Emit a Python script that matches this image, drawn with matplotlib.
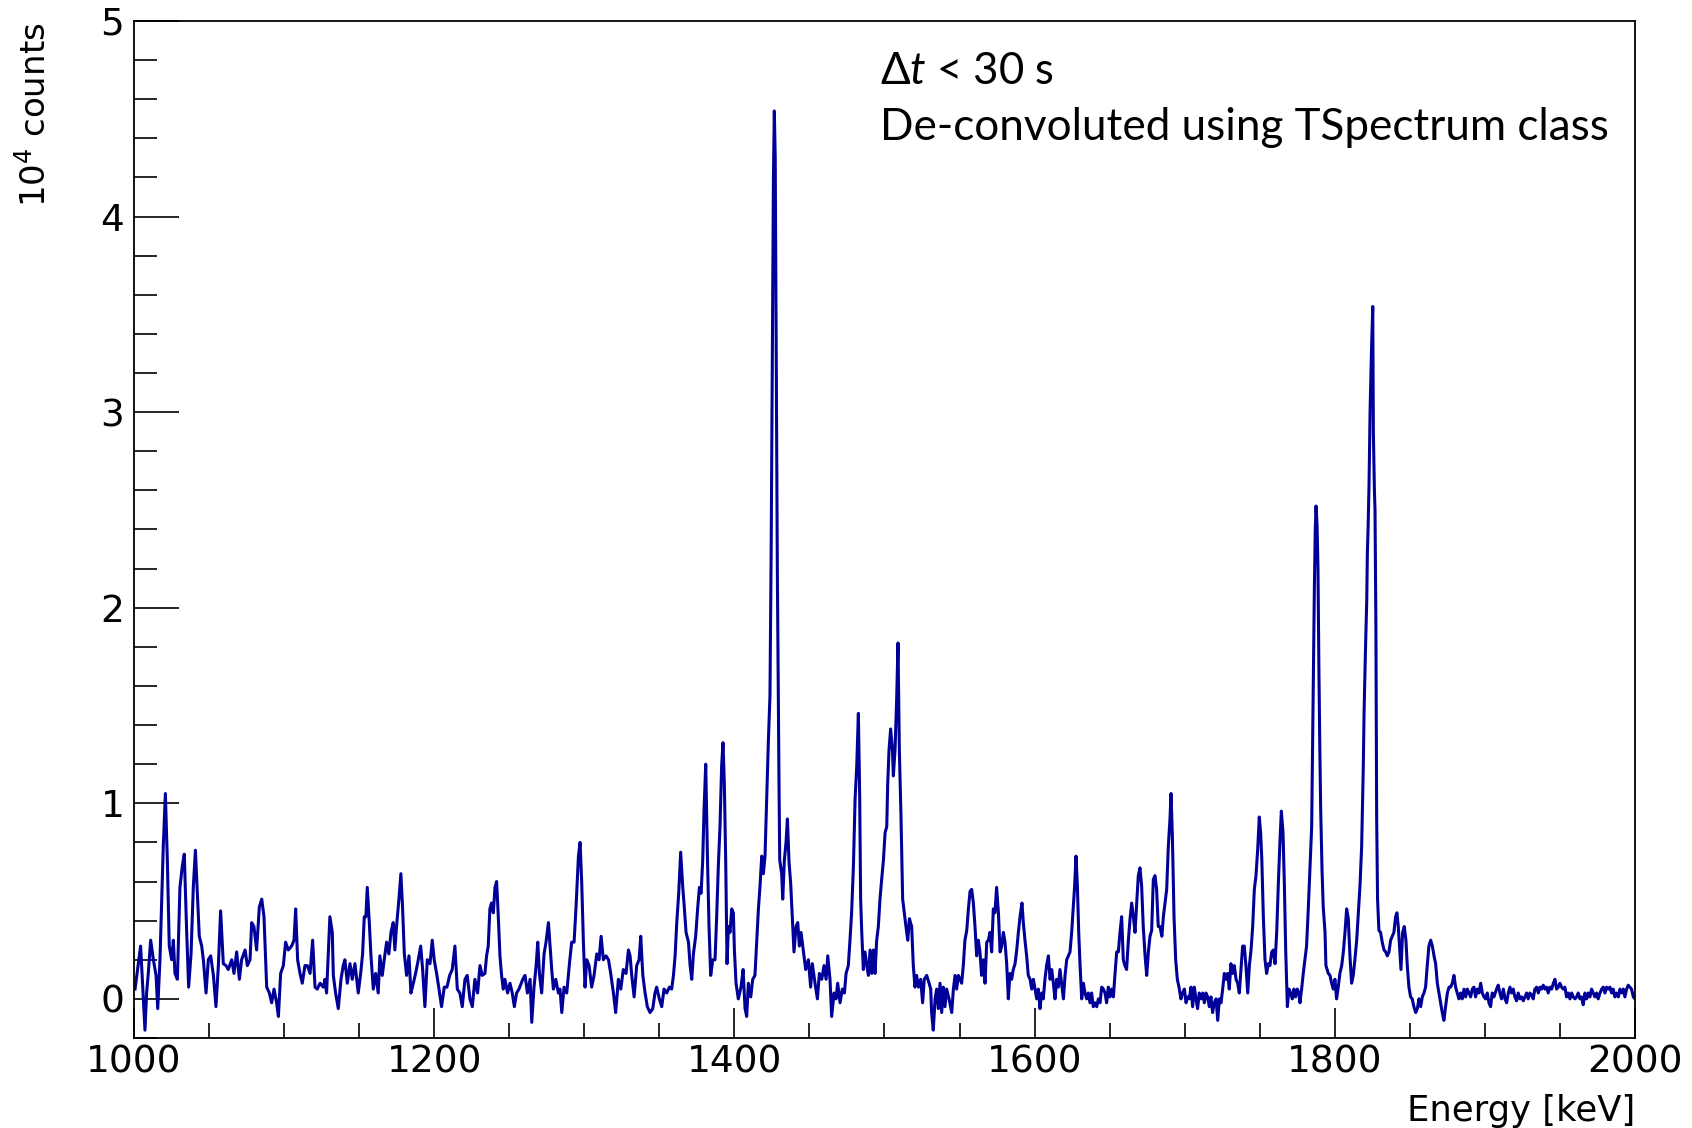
import matplotlib
matplotlib.use("Agg")
import matplotlib.pyplot as plt
from matplotlib.ticker import MultipleLocator

# spectrum: (energy keV, counts / 1e4), one list per stretch
seg_1000_1126 = [
    (1000.7, 0.05), (1004.4, 0.27), (1006.2, 0.00), (1007.3, -0.16), (1008.4, 0.03),
    (1009.5, 0.13), (1011.1, 0.30), (1012.9, 0.20), (1014.7, 0.12), (1015.8, -0.05),
    (1017.3, 0.20), (1018.4, 0.49), (1019.5, 0.78), (1020.9, 1.05), (1022.2, 0.71),
    (1023.5, 0.27), (1025.1, 0.20), (1026.2, 0.30), (1027.3, 0.13), (1028.9, 0.10),
    (1030.6, 0.57), (1032.2, 0.68), (1033.5, 0.74), (1035.1, 0.34), (1036.4, 0.06),
    (1038.0, 0.23), (1039.5, 0.57), (1040.9, 0.76), (1042.2, 0.54), (1043.5, 0.32),
    (1045.1, 0.27), (1046.2, 0.20), (1048.0, 0.03), (1049.5, 0.20), (1051.1, 0.22),
    (1052.9, 0.12), (1054.6, -0.04), (1056.2, 0.17), (1057.7, 0.45), (1059.5, 0.18),
    (1061.3, 0.17), (1062.8, 0.15), (1065.1, 0.20), (1066.6, 0.13), (1068.4, 0.24),
    (1070.2, 0.10), (1071.7, 0.20), (1074.0, 0.25), (1075.5, 0.17), (1077.3, 0.20),
    (1078.4, 0.39), (1079.9, 0.37), (1081.7, 0.25), (1083.5, 0.47), (1085.1, 0.51),
    (1086.6, 0.42), (1088.4, 0.06), (1090.2, 0.03), (1091.7, -0.02), (1093.3, 0.05),
    (1095.0, -0.02), (1096.2, -0.09), (1097.7, 0.13), (1099.5, 0.17), (1101.0, 0.29),
    (1102.8, 0.25), (1105.0, 0.27), (1106.6, 0.30), (1107.7, 0.46), (1109.0, 0.20),
    (1110.6, 0.13), (1112.1, 0.08), (1113.9, 0.17), (1115.5, 0.17), (1117.3, 0.13),
    (1119.0, 0.30), (1120.6, 0.06), (1122.1, 0.05), (1123.9, 0.08), (1126.1, 0.06),
]
seg_1127_1257 = [
    (1127.2, 0.10), (1128.3, 0.03), (1129.4, 0.23), (1130.5, 0.42), (1132.1, 0.34),
    (1132.8, 0.12), (1134.3, 0.03), (1136.1, -0.05), (1137.9, 0.10), (1139.4, 0.17),
    (1140.5, 0.20), (1142.1, 0.08), (1143.9, 0.18), (1145.4, 0.10), (1147.2, 0.18),
    (1149.4, 0.03), (1151.0, 0.13), (1152.3, 0.23), (1153.4, 0.42), (1154.5, 0.42),
    (1155.4, 0.57), (1156.7, 0.40), (1157.8, 0.23), (1159.4, 0.05), (1161.0, 0.13),
    (1162.7, 0.03), (1163.8, 0.22), (1165.4, 0.12), (1166.7, 0.20), (1168.3, 0.29),
    (1169.8, 0.23), (1171.2, 0.34), (1172.7, 0.39), (1173.8, 0.25), (1174.9, 0.37),
    (1176.5, 0.51), (1177.8, 0.64), (1178.9, 0.47), (1180.1, 0.23), (1181.6, 0.12),
    (1183.2, 0.22), (1184.5, 0.03), (1186.1, 0.08), (1187.6, 0.13), (1189.4, 0.20),
    (1191.0, 0.27), (1192.3, 0.15), (1193.8, -0.04), (1195.4, 0.20), (1197.2, 0.18),
    (1198.7, 0.30), (1200.0, 0.20), (1201.6, 0.13), (1203.2, 0.05), (1204.9, -0.04),
    (1206.7, 0.06), (1208.5, 0.06), (1210.3, 0.12), (1212.0, 0.15), (1213.8, 0.27),
    (1215.4, 0.05), (1217.1, 0.03), (1218.7, -0.04), (1220.5, 0.10), (1222.0, 0.12),
    (1223.8, 0.00), (1225.4, -0.04), (1227.1, 0.10), (1228.9, 0.03), (1230.5, 0.17),
    (1232.0, 0.12), (1233.8, 0.13), (1234.9, 0.22), (1236.0, 0.27), (1237.1, 0.46),
    (1238.2, 0.49), (1239.4, 0.44), (1240.5, 0.57), (1241.6, 0.60), (1242.7, 0.42),
    (1243.8, 0.22), (1244.9, 0.12), (1246.0, 0.05), (1247.1, 0.10), (1248.9, 0.03),
    (1250.5, 0.08), (1252.0, 0.03), (1253.4, -0.04), (1254.9, 0.03), (1256.5, 0.05),
]
seg_1259_1386 = [
    (1259.0, 0.10), (1260.5, 0.12), (1262.1, 0.03), (1263.9, 0.10), (1265.0, -0.12),
    (1266.5, 0.06), (1267.9, 0.17), (1269.0, 0.29), (1270.1, 0.13), (1271.6, 0.03),
    (1273.2, 0.23), (1274.5, 0.29), (1276.1, 0.39), (1277.2, 0.27), (1278.3, 0.15),
    (1279.4, 0.05), (1281.0, 0.10), (1282.7, 0.03), (1283.8, 0.05), (1285.0, -0.07),
    (1286.5, 0.06), (1288.3, 0.03), (1290.1, 0.18), (1291.6, 0.29), (1293.2, 0.29),
    (1294.5, 0.47), (1296.1, 0.73), (1297.2, 0.80), (1298.3, 0.59), (1299.4, 0.29),
    (1300.5, 0.06), (1301.6, 0.20), (1303.2, 0.17), (1304.9, 0.06), (1306.5, 0.12),
    (1308.3, 0.23), (1309.8, 0.20), (1311.2, 0.32), (1312.7, 0.20), (1314.5, 0.22),
    (1316.1, 0.20), (1317.6, 0.13), (1319.4, 0.03), (1320.9, -0.07), (1322.7, 0.10),
    (1324.3, 0.05), (1326.0, 0.15), (1327.8, 0.13), (1329.4, 0.25), (1330.5, 0.22),
    (1331.6, 0.12), (1333.2, 0.01), (1334.9, 0.17), (1336.5, 0.20), (1337.6, 0.32),
    (1339.0, 0.12), (1340.5, 0.03), (1342.0, -0.04), (1343.8, -0.07), (1345.6, -0.05),
    (1347.1, 0.03), (1348.2, 0.06), (1350.0, 0.00), (1351.6, -0.04), (1353.1, 0.05),
    (1354.9, 0.03), (1356.7, 0.06), (1358.2, 0.05), (1359.4, 0.12), (1360.5, 0.22),
    (1361.6, 0.39), (1362.9, 0.54), (1364.2, 0.75), (1365.6, 0.57), (1366.7, 0.46),
    (1367.8, 0.34), (1369.4, 0.29), (1370.5, 0.17), (1371.6, 0.10), (1372.7, 0.23),
    (1374.2, 0.32), (1375.6, 0.47), (1376.7, 0.57), (1377.8, 0.54), (1378.9, 0.71),
    (1379.8, 0.97), (1380.9, 1.20), (1382.0, 0.74), (1383.1, 0.37), (1384.2, 0.12),
    (1385.6, 0.20),
]
seg_1387_1517 = [
    (1387.1, 0.20), (1388.2, 0.42), (1389.3, 0.68), (1390.4, 0.88), (1391.5, 1.19),
    (1392.4, 1.31), (1393.3, 1.10), (1394.2, 0.71), (1395.1, 0.18), (1396.0, 0.37),
    (1397.1, 0.34), (1398.2, 0.46), (1399.3, 0.44), (1400.0, 0.25), (1401.1, 0.08),
    (1402.6, 0.00), (1404.4, 0.06), (1405.8, 0.15), (1407.1, -0.05), (1408.2, -0.09),
    (1409.3, 0.08), (1410.9, 0.01), (1412.2, 0.10), (1413.7, 0.12), (1414.9, 0.30),
    (1416.0, 0.46), (1417.1, 0.58), (1418.2, 0.73), (1419.3, 0.64), (1420.4, 0.73),
    (1421.5, 1.02), (1422.6, 1.31), (1423.7, 1.55), (1424.5, 2.30), (1425.3, 3.30),
    (1426.0, 4.20), (1426.6, 4.54), (1427.2, 4.30), (1427.9, 3.30), (1428.6, 2.20),
    (1429.3, 1.50), (1429.7, 1.12), (1430.2, 0.71), (1431.5, 0.64), (1432.2, 0.51),
    (1433.3, 0.71), (1434.4, 0.80), (1435.3, 0.92), (1436.4, 0.70), (1437.5, 0.59),
    (1438.6, 0.41), (1439.7, 0.24), (1441.1, 0.37), (1442.2, 0.39), (1443.3, 0.27),
    (1444.4, 0.34), (1446.0, 0.24), (1447.5, 0.15), (1449.3, 0.20), (1450.8, 0.06),
    (1451.9, 0.18), (1453.7, 0.08), (1455.3, 0.00), (1456.6, 0.13), (1458.2, 0.10),
    (1459.7, 0.17), (1461.1, 0.10), (1462.2, 0.22), (1463.7, 0.10), (1464.8, -0.09),
    (1466.4, 0.03), (1467.7, 0.00), (1468.8, 0.08), (1470.4, -0.02), (1471.9, 0.05),
    (1473.3, 0.03), (1474.4, 0.13), (1475.9, 0.17), (1477.0, 0.30), (1478.1, 0.44),
    (1479.3, 0.68), (1480.4, 1.02), (1481.5, 1.19), (1482.6, 1.46), (1483.5, 1.02),
    (1484.1, 0.51), (1484.8, 0.35), (1485.9, 0.15), (1487.0, 0.24), (1488.2, 0.17),
    (1489.3, 0.12), (1490.4, 0.25), (1491.5, 0.13), (1492.6, 0.25), (1493.7, 0.13),
    (1494.8, 0.30), (1495.9, 0.37), (1497.0, 0.51), (1498.1, 0.61), (1499.3, 0.71),
    (1500.4, 0.85), (1501.5, 0.88), (1502.1, 1.09), (1503.0, 1.27), (1504.1, 1.38),
    (1505.3, 1.27), (1505.9, 1.14), (1507.0, 1.27), (1508.1, 1.53), (1509.0, 1.82),
    (1509.9, 1.27), (1511.0, 0.93), (1512.1, 0.51), (1513.2, 0.44), (1514.3, 0.37),
    (1515.5, 0.30), (1516.6, 0.41),
]
seg_1518_1646 = [
    (1518.1, 0.37), (1519.2, 0.17), (1520.3, 0.06), (1521.4, 0.12), (1522.6, 0.06),
    (1524.1, 0.10), (1525.4, -0.02), (1526.5, 0.10), (1528.1, 0.12), (1529.7, 0.08),
    (1530.8, 0.05), (1531.4, -0.07), (1532.5, -0.16), (1533.7, 0.00), (1534.8, 0.05),
    (1535.9, -0.05), (1537.0, 0.08), (1538.1, -0.07), (1539.2, 0.06), (1540.3, -0.04),
    (1541.4, 0.05), (1543.0, 0.00), (1544.8, -0.07), (1545.9, 0.05), (1547.0, 0.12),
    (1548.1, 0.05), (1549.2, 0.12), (1550.3, 0.10), (1551.4, 0.08), (1552.5, 0.17),
    (1553.6, 0.30), (1554.8, 0.35), (1555.9, 0.46), (1557.0, 0.55), (1558.1, 0.56),
    (1559.2, 0.49), (1560.3, 0.37), (1561.4, 0.22), (1562.5, 0.30), (1563.6, 0.24),
    (1564.7, 0.12), (1565.9, 0.20), (1567.0, 0.08), (1568.1, 0.29), (1569.2, 0.30),
    (1570.3, 0.34), (1571.4, 0.24), (1572.5, 0.46), (1573.6, 0.44), (1574.7, 0.57),
    (1575.9, 0.44), (1577.0, 0.24), (1578.1, 0.27), (1579.2, 0.34), (1580.3, 0.29),
    (1581.4, 0.18), (1582.5, 0.00), (1583.6, 0.13), (1584.7, 0.10), (1585.8, 0.15),
    (1587.0, 0.18), (1588.1, 0.25), (1589.2, 0.34), (1590.3, 0.42), (1591.6, 0.49),
    (1592.5, 0.39), (1593.6, 0.30), (1594.7, 0.22), (1595.8, 0.12), (1597.0, 0.10),
    (1598.1, 0.05), (1599.2, 0.10), (1600.3, 0.05), (1601.4, 0.00), (1602.5, 0.05),
    (1603.6, -0.05), (1604.7, 0.03), (1605.8, 0.00), (1606.9, 0.10), (1608.0, 0.17),
    (1609.2, 0.22), (1610.3, 0.10), (1611.4, 0.15), (1612.5, 0.08), (1613.6, 0.00),
    (1614.7, 0.10), (1615.8, 0.06), (1616.9, 0.15), (1618.0, 0.08), (1619.2, 0.00),
    (1620.3, 0.12), (1621.4, 0.20), (1622.5, 0.22), (1623.6, 0.24), (1624.7, 0.34),
    (1625.8, 0.47), (1626.7, 0.58), (1627.6, 0.73), (1628.5, 0.58), (1629.4, 0.34),
    (1630.3, 0.17), (1631.4, 0.00), (1632.5, 0.08), (1633.6, 0.03), (1634.7, 0.00),
    (1635.8, 0.03), (1636.9, -0.02), (1638.0, 0.03), (1639.1, -0.04), (1640.3, -0.02),
    (1641.4, -0.04), (1642.5, 0.00), (1643.6, -0.02), (1644.7, 0.06), (1645.8, 0.05),
]
seg_1647_1776 = [
    (1646.9, 0.03), (1648.0, -0.02), (1649.1, 0.06), (1650.2, 0.01), (1651.3, 0.05),
    (1652.5, 0.01), (1653.6, 0.13), (1654.7, 0.24), (1655.8, 0.24), (1656.9, 0.34),
    (1658.0, 0.42), (1659.1, 0.20), (1660.2, 0.17), (1661.3, 0.15), (1662.4, 0.29),
    (1663.6, 0.41), (1664.7, 0.49), (1665.8, 0.42), (1666.9, 0.34), (1668.0, 0.49),
    (1669.1, 0.63), (1670.2, 0.67), (1671.3, 0.58), (1672.4, 0.37), (1673.6, 0.22),
    (1674.7, 0.12), (1675.8, 0.24), (1676.9, 0.32), (1678.0, 0.35), (1679.1, 0.61),
    (1680.2, 0.63), (1681.3, 0.56), (1682.4, 0.37), (1683.5, 0.37), (1684.8, 0.32),
    (1685.8, 0.42), (1686.9, 0.49), (1688.0, 0.56), (1689.1, 0.78), (1690.2, 0.92),
    (1690.9, 1.05), (1691.8, 0.83), (1692.9, 0.42), (1694.0, 0.20), (1695.1, 0.10),
    (1696.2, 0.06), (1697.5, 0.00), (1698.6, 0.03), (1699.8, 0.05), (1700.9, -0.02),
    (1702.0, 0.01), (1703.1, 0.00), (1704.2, 0.06), (1705.3, -0.04), (1706.4, 0.06),
    (1707.5, 0.00), (1708.6, -0.05), (1709.7, 0.03), (1710.9, 0.00), (1712.0, 0.03),
    (1713.1, -0.02), (1714.2, 0.03), (1715.3, 0.01), (1716.4, -0.04), (1717.5, 0.01),
    (1718.6, -0.07), (1719.7, -0.02), (1720.9, 0.00), (1722.0, -0.11), (1723.1, 0.00),
    (1724.2, -0.02), (1725.3, 0.05), (1726.4, 0.13), (1727.5, 0.10), (1728.6, 0.13),
    (1729.7, 0.05), (1730.8, 0.18), (1732.0, 0.13), (1733.1, 0.17), (1734.2, 0.10),
    (1735.3, 0.08), (1736.4, 0.03), (1737.5, 0.15), (1738.6, 0.27), (1739.7, 0.27),
    (1740.8, 0.17), (1742.0, 0.03), (1743.1, 0.17), (1744.2, 0.25), (1745.3, 0.37),
    (1746.4, 0.56), (1747.5, 0.63), (1748.6, 0.76), (1749.7, 0.93), (1750.6, 0.85),
    (1751.4, 0.71), (1752.4, 0.42), (1753.5, 0.20), (1754.6, 0.13), (1755.7, 0.18),
    (1756.8, 0.17), (1758.0, 0.24), (1759.1, 0.25), (1760.2, 0.18), (1761.3, 0.34),
    (1762.4, 0.59), (1763.5, 0.81), (1764.4, 0.96), (1765.5, 0.85), (1766.4, 0.59),
    (1767.3, 0.25), (1768.4, -0.04), (1769.5, 0.05), (1770.6, 0.03), (1771.7, 0.00),
    (1772.8, 0.05), (1773.9, 0.01), (1775.0, 0.05), (1776.1, 0.03),
]
seg_1777_1906 = [
    (1776.8, -0.02), (1777.9, 0.05), (1779.0, 0.13), (1780.1, 0.20), (1781.2, 0.27),
    (1782.4, 0.47), (1783.5, 0.68), (1784.6, 0.88), (1785.2, 1.30), (1785.8, 1.75),
    (1786.4, 2.10), (1787.0, 2.40), (1787.5, 2.52), (1788.2, 2.42), (1788.8, 2.20),
    (1789.4, 1.70), (1790.0, 1.30), (1790.6, 0.97), (1791.5, 0.66), (1792.3, 0.47),
    (1793.5, 0.34), (1794.1, 0.17), (1795.7, 0.13), (1796.8, 0.12), (1797.9, 0.08),
    (1799.0, 0.05), (1800.1, 0.10), (1801.2, 0.00), (1802.3, 0.06), (1803.4, 0.13),
    (1804.6, 0.17), (1805.7, 0.24), (1806.8, 0.34), (1807.9, 0.46), (1809.0, 0.41),
    (1810.1, 0.22), (1811.2, 0.08), (1812.3, 0.12), (1813.4, 0.20), (1814.6, 0.30),
    (1815.7, 0.44), (1816.8, 0.58), (1817.9, 0.78), (1819.0, 1.19), (1819.5, 1.46),
    (1820.4, 1.77), (1821.3, 2.04), (1821.7, 2.28), (1822.2, 2.41), (1822.8, 2.62),
    (1823.5, 3.00), (1824.4, 3.30), (1825.3, 3.54), (1825.7, 2.90), (1826.4, 2.60),
    (1826.8, 2.50), (1827.4, 1.90), (1827.9, 0.93), (1828.5, 0.51), (1829.4, 0.35),
    (1830.5, 0.34), (1831.6, 0.29), (1832.8, 0.25), (1833.9, 0.24), (1835.0, 0.22),
    (1836.1, 0.24), (1837.2, 0.30), (1838.3, 0.32), (1839.4, 0.34), (1840.5, 0.42),
    (1841.4, 0.44), (1842.3, 0.37), (1843.4, 0.24), (1844.1, 0.15), (1845.2, 0.34),
    (1846.3, 0.37), (1847.4, 0.30), (1848.3, 0.17), (1849.4, 0.06), (1850.5, 0.01),
    (1851.6, 0.00), (1852.7, -0.04), (1853.9, -0.07), (1855.0, -0.05), (1856.1, 0.00),
    (1857.2, -0.04), (1858.3, 0.01), (1859.4, 0.03), (1860.5, 0.06), (1861.6, 0.17),
    (1862.7, 0.27), (1863.9, 0.30), (1865.0, 0.27), (1866.1, 0.22), (1867.2, 0.18),
    (1868.3, 0.08), (1869.4, 0.03), (1870.5, -0.02), (1871.6, -0.07), (1872.7, -0.11),
    (1873.8, -0.04), (1875.0, 0.03), (1876.1, 0.06), (1877.2, 0.06), (1878.3, 0.08),
    (1879.4, 0.12), (1880.5, 0.06), (1881.6, 0.03), (1882.7, 0.00), (1883.8, 0.03),
    (1884.9, 0.00), (1886.1, 0.05), (1887.2, 0.01), (1888.3, 0.05), (1889.4, 0.03),
    (1890.5, 0.01), (1891.6, 0.05), (1892.7, 0.06), (1893.8, 0.01), (1894.9, 0.05),
    (1896.1, 0.03), (1897.2, 0.08), (1898.3, 0.03), (1899.4, 0.01), (1900.5, 0.00),
    (1901.6, 0.03), (1902.7, -0.02), (1903.8, -0.04), (1904.9, 0.03), (1906.0, 0.01),
]
seg_1907_2000 = [
    (1907.8, 0.05), (1908.9, 0.07), (1910.0, 0.03), (1911.1, 0.00), (1912.3, 0.05),
    (1913.4, 0.00), (1914.5, -0.02), (1915.6, 0.03), (1916.7, 0.06), (1917.8, 0.03),
    (1918.9, 0.05), (1920.0, 0.01), (1921.1, -0.01), (1922.2, 0.03), (1923.4, 0.00),
    (1924.5, 0.01), (1925.6, -0.01), (1926.7, 0.01), (1927.8, 0.03), (1928.9, 0.00),
    (1930.0, 0.03), (1931.1, 0.02), (1932.2, 0.00), (1933.3, 0.05), (1934.5, 0.06),
    (1935.6, 0.03), (1936.7, 0.06), (1937.8, 0.05), (1938.9, 0.07), (1940.0, 0.05),
    (1941.1, 0.06), (1942.2, 0.03), (1943.3, 0.06), (1944.5, 0.05), (1945.6, 0.08),
    (1946.7, 0.10), (1947.8, 0.05), (1948.9, 0.06), (1950.0, 0.08), (1951.1, 0.06),
    (1952.2, 0.05), (1953.3, 0.06), (1954.4, 0.01), (1955.6, 0.03), (1956.7, 0.00),
    (1957.8, 0.03), (1958.9, 0.01), (1960.0, 0.00), (1961.1, 0.01), (1962.2, 0.03),
    (1963.3, 0.00), (1964.4, 0.01), (1965.5, -0.03), (1966.7, 0.03), (1967.8, 0.00),
    (1968.9, 0.03), (1970.0, 0.01), (1971.1, 0.05), (1972.2, 0.03), (1973.3, 0.01),
    (1974.4, 0.03), (1975.5, 0.00), (1976.7, 0.03), (1977.8, 0.05), (1978.9, 0.06),
    (1980.0, 0.03), (1981.1, 0.06), (1982.2, 0.05), (1983.3, 0.06), (1984.4, 0.03),
    (1985.5, 0.05), (1986.6, 0.01), (1987.8, 0.03), (1988.9, 0.01), (1990.0, 0.05),
    (1991.1, 0.03), (1992.2, 0.05), (1993.3, 0.01), (1994.4, 0.05), (1995.5, 0.07),
    (1996.6, 0.06), (1997.7, 0.05), (1998.9, 0.01), (2000.0, 0.00),
]

x_ticks = [1000, 1200, 1400, 1600, 1800, 2000]
y_ticks = [0, 1, 2, 3, 4, 5]
x_title = "Energy [keV]"
y_title = r"10$^{4}$ counts"
note_lines = [r"Δ$\mathit{t}$ < 30 s", "De-convoluted using TSpectrum class"]

plt.rcParams["font.family"] = ["DejaVu Sans"]
plt.rcParams["mathtext.fontset"] = "custom"
plt.rcParams["mathtext.default"] = "regular"
plt.rcParams["mathtext.it"] = "Lato:italic"

points = (seg_1000_1126 + seg_1127_1257 + seg_1259_1386 + seg_1387_1517
          + seg_1518_1646 + seg_1647_1776 + seg_1777_1906 + seg_1907_2000)
energy = [p[0] for p in points]
counts = [p[1] for p in points]

fig = plt.figure(figsize=(16.92, 11.28), dpi=100)
ax = fig.add_axes([0.0792, 0.0798, 0.8871, 0.9016])

ax.plot(energy, counts, color="#000099", linewidth=2.2)

ax.set_xlim(1000, 2000)
ax.set_ylim(-0.2, 5.0)
ax.set_xticks(x_ticks)
ax.set_xticklabels([str(t) for t in x_ticks])
ax.set_yticks(y_ticks)
ax.set_yticklabels([str(t) for t in y_ticks])
ax.xaxis.set_minor_locator(MultipleLocator(50))
ax.yaxis.set_minor_locator(MultipleLocator(0.2))

ax.tick_params(which="both", direction="in", top=False, right=False,
               width=1.2, labelsize=27)
ax.tick_params(axis="x", which="major", length=21.6, pad=5)
ax.tick_params(axis="x", which="minor", length=10.8)
ax.tick_params(axis="y", which="major", length=32.4, pad=7)
ax.tick_params(axis="y", which="minor", length=16.5)
for s in ax.spines.values():
    s.set_linewidth(1.3)

fig.text(0.9663, 0.0065, x_title, ha="right", va="baseline", fontsize=25.5)
fig.text(0.0205, 0.9805, y_title, rotation=90, ha="center", va="top", fontsize=24.5)

ax.text(0.497, 0.938, note_lines[0], transform=ax.transAxes, ha="left",
        va="baseline", fontsize=31.5, family=["Lato", "DejaVu Sans"])
ax.text(0.497, 0.883, note_lines[1], transform=ax.transAxes, ha="left",
        va="baseline", fontsize=31.7, family=["Lato", "DejaVu Sans"])

fig.savefig("out.png", dpi=100)
